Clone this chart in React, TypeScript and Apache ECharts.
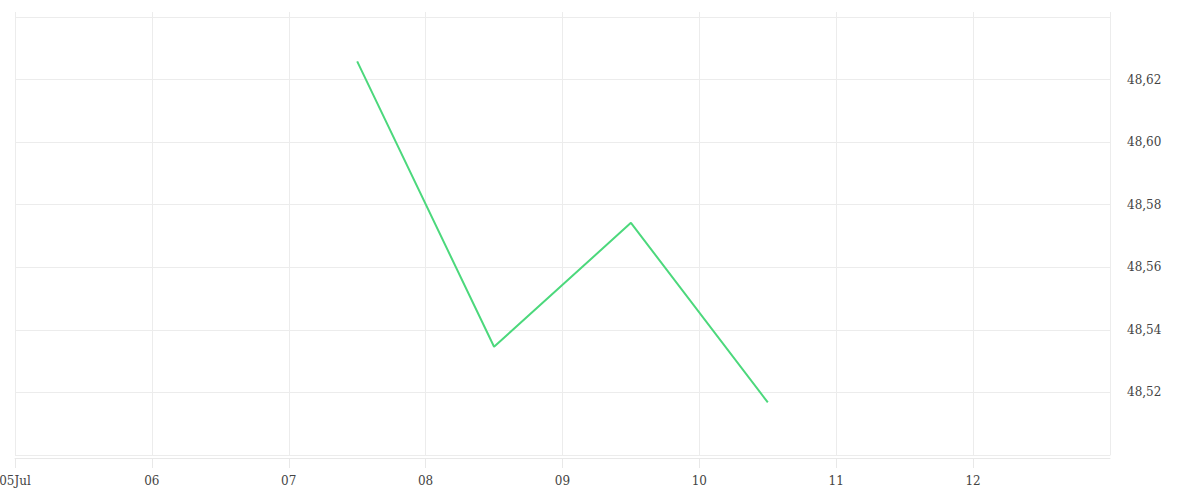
import React, { useEffect, useRef } from "react";
import * as echarts from "echarts";

const dates = ["2024-07-07T12:00:00Z", "2024-07-08T12:00:00Z", "2024-07-09T12:00:00Z", "2024-07-10T12:00:00Z"];
const values = [48.6258, 48.5346, 48.5742, 48.5168];
const xMin = Date.UTC(2024, 6, 5);
const xMax = Date.UTC(2024, 6, 13);
const DAY = 86400000;
const yMin = 48.5;
const yMax = 48.64;
const yStep = 0.02;

export default function App() {
  const ref = useRef<HTMLDivElement>(null);
  useEffect(() => {
    if (!ref.current) return;
    const chart = echarts.init(ref.current, null, { renderer: "svg" });
    const font = "'DejaVu Serif', serif";
    chart.setOption({
      animation: false,
      grid: { left: 15, right: 90, top: 17, bottom: 45, containLabel: false, outerBoundsMode: "none" },
      xAxis: [
        {
          type: "value",
          min: xMin,
          max: xMax,
          interval: DAY,
          offset: 3,
          axisLine: { show: true, lineStyle: { color: "#e8e8e8" } },
          axisTick: { show: true, length: 10, lineStyle: { color: "#e8e8e8" } },
          splitLine: { show: true, lineStyle: { color: "#ececec" } },
          axisLabel: {
            margin: 17,
            color: "#444",
            fontFamily: font,
            fontSize: 12,
            showMaxLabel: false,
            formatter: (v: number) => {
              const d = new Date(v);
              const dd = String(d.getUTCDate()).padStart(2, "0");
              return v === xMin ? dd + "Jul" : dd;
            },
          },
        },
        {
          type: "value",
          position: "top",
          min: xMin,
          max: xMax,
          interval: DAY,
          axisLine: { show: false },
          axisTick: { show: true, length: 5, lineStyle: { color: "#ececec" } },
          splitLine: { show: false },
          axisLabel: { show: false },
        },
      ],
      yAxis: {
        type: "value",
        position: "right",
        min: yMin,
        max: yMax,
        interval: yStep,
        axisLine: { show: true, lineStyle: { color: "#ececec" } },
        axisTick: { show: false },
        splitLine: { show: true, lineStyle: { color: "#ececec" } },
        axisLabel: {
          margin: 17,
          color: "#444",
          fontFamily: font,
          fontSize: 12,
          showMinLabel: false,
          showMaxLabel: false,
          formatter: (v: number) => v.toFixed(2).replace(".", ","),
        },
      },
      series: [
        {
          type: "line",
          data: dates.map((d, i) => [Date.parse(d), values[i]]),
          showSymbol: false,
          symbol: "none",
          lineStyle: { color: "#4cd87c", width: 2 },
        },
      ],
    });
    return () => chart.dispose();
  }, []);
  return <div ref={ref} style={{ position: "absolute", left: 0, top: 0, width: 1200, height: 500 }} />;
}
